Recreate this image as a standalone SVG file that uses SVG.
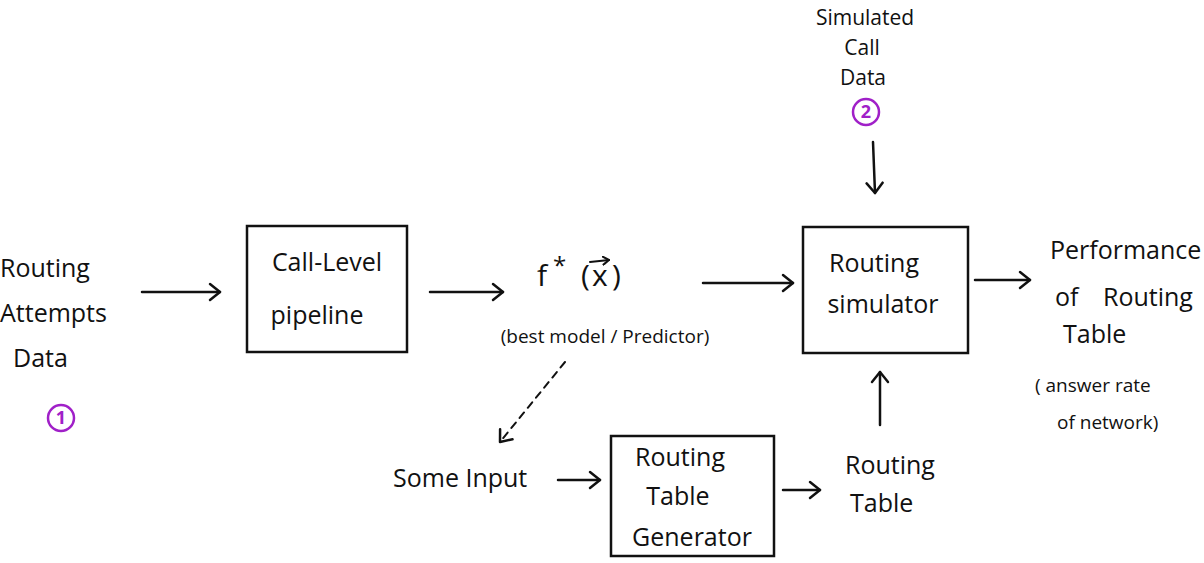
<svg xmlns="http://www.w3.org/2000/svg" width="1204" height="563" viewBox="0 0 1204 563">
<style>
text{font-family:"Open Sans","Liberation Sans",sans-serif;fill:#111;}
.t{font-size:25px;}
.m{font-size:21px;}
.s{font-size:19px;}
.f{font-size:30px;}
.box{fill:none;stroke:#111;stroke-width:2.5;}
.c{fill:none;stroke:#111;stroke-width:2.5;stroke-linecap:round;}
.d{stroke-dasharray:7 6;stroke-width:2;}
.num{fill:none;stroke:#a020c8;stroke-width:2.5;}
.nt{fill:#a020c8;font-size:18px;font-weight:bold;}
</style>
<defs>
<marker id="ah" markerWidth="14" markerHeight="20" refX="12" refY="10" orient="auto" markerUnits="userSpaceOnUse">
<polyline points="2,2 12,10 2,18" fill="none" stroke="#111" stroke-width="2.5" stroke-linecap="round" stroke-linejoin="round"/>
</marker>
<marker id="vh" markerWidth="8" markerHeight="10" refX="7" refY="5" orient="auto" markerUnits="userSpaceOnUse">
<polyline points="1,1 7,5 1,9" fill="none" stroke="#111" stroke-width="2" stroke-linecap="round" stroke-linejoin="round"/>
</marker>
</defs>
<rect width="1204" height="563" fill="#fff"/>

<g id="connectors">
<line class="c" x1="142" y1="292" x2="220" y2="292" marker-end="url(#ah)"/>
<line class="c" x1="430" y1="292" x2="503" y2="292" marker-end="url(#ah)"/>
<line class="c" x1="703" y1="283" x2="793" y2="283" marker-end="url(#ah)"/>
<line class="c" x1="975" y1="280" x2="1030" y2="280" marker-end="url(#ah)"/>
<line class="c" x1="873" y1="142" x2="875" y2="193" marker-end="url(#ah)"/>
<line class="c d" x1="565" y1="362" x2="500" y2="442" marker-end="url(#ah)"/>
<line class="c" x1="558" y1="480" x2="600" y2="480" marker-end="url(#ah)"/>
<line class="c" x1="783" y1="490" x2="820" y2="490" marker-end="url(#ah)"/>
<line class="c" x1="880" y1="425" x2="880" y2="372" marker-end="url(#ah)"/>
</g>

<g id="routing-attempts-data">
<text class="t" x="0" y="277">Routing</text>
<text class="t" x="0" y="322">Attempts</text>
<text class="t" x="13" y="367">Data</text>
<circle class="num" cx="61" cy="418" r="13"/>
<text class="nt" x="61" y="424" text-anchor="middle">1</text>
</g>

<g id="call-level-pipeline">
<rect class="box" x="247" y="226" width="160" height="126"/>
<text class="t" x="327" y="271" text-anchor="middle">Call-Level</text>
<text class="t" x="317" y="324" text-anchor="middle">pipeline</text>
</g>

<g id="predictor">
<text class="f" x="537" y="286">f<tspan x="553" y="274" style="font-size:24px">*</tspan><tspan x="581" y="286">(</tspan><tspan x="592" y="286">x</tspan><tspan x="612" y="286">)</tspan></text>
<line x1="590" y1="262" x2="609" y2="260" stroke="#111" stroke-width="2" stroke-linecap="round" marker-end="url(#vh)"/>
<text class="s" x="605" y="343" text-anchor="middle">(best model / Predictor)</text>
</g>

<g id="simulated-call-data">
<text class="m" x="865" y="25" text-anchor="middle">Simulated</text>
<text class="m" x="862" y="55" text-anchor="middle">Call</text>
<text class="m" x="863" y="85" text-anchor="middle">Data</text>
<circle class="num" cx="866" cy="112" r="13"/>
<text class="nt" x="866" y="118" text-anchor="middle">2</text>
</g>

<g id="routing-simulator">
<rect class="box" x="803" y="227" width="165" height="126"/>
<text class="t" x="874" y="272" text-anchor="middle">Routing</text>
<text class="t" x="883" y="313" text-anchor="middle">simulator</text>
</g>

<g id="performance">
<text class="t" x="1050" y="259">Performance</text>
<text class="t" x="1055" y="306">of</text>
<text class="t" x="1103" y="306">Routing</text>
<text class="t" x="1063" y="343">Table</text>
<text class="s" x="1035" y="392">( answer rate</text>
<text class="s" x="1057" y="429">of  network)</text>
</g>

<g id="some-input">
<text class="t" x="393" y="487">Some Input</text>
</g>

<g id="routing-table-generator">
<rect class="box" x="611" y="436" width="163" height="120"/>
<text class="t" x="680" y="466" text-anchor="middle">Routing</text>
<text class="t" x="678" y="505" text-anchor="middle">Table</text>
<text class="t" x="692" y="546" text-anchor="middle">Generator</text>
</g>

<g id="routing-table">
<text class="t" x="845" y="474">Routing</text>
<text class="t" x="850" y="512">Table</text>
</g>
</svg>
